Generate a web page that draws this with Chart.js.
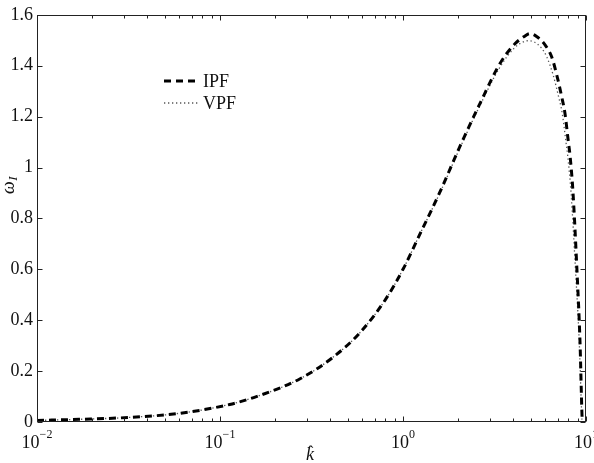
<!DOCTYPE html>
<html><head><meta charset="utf-8">
<script src="https://cdn.jsdelivr.net/npm/chart.js@4"></script>
<style>html,body{margin:0;padding:0;background:#fff;}canvas{display:block;}</style>
</head><body>
<canvas id="c" width="594" height="463"></canvas>
<script>
const kIPF = [0.01, 0.017, 0.032, 0.06, 0.113, 0.166, 0.274, 0.414, 0.582, 0.8, 1.0, 1.25, 1.59, 2.05, 2.64, 3.39, 4.09, 4.6, 4.94, 5.37, 6.0, 6.49, 6.92, 7.36, 7.67, 8.0, 8.18, 8.49, 8.93, 9.27, 9.51, 9.55];
const wIPF = [0.006, 0.0105, 0.018, 0.034, 0.069, 0.105, 0.170, 0.254, 0.351, 0.48, 0.60, 0.745, 0.903, 1.084, 1.253, 1.409, 1.486, 1.515, 1.526, 1.515, 1.48, 1.435, 1.364, 1.279, 1.214, 1.104, 1.047, 0.903, 0.592, 0.319, 0.027, 0];
const kVPF = [0.01, 0.017, 0.032, 0.06, 0.113, 0.166, 0.274, 0.414, 0.582, 0.8, 1.0, 1.25, 1.59, 2.05, 2.64, 3.39, 4.09, 4.5, 4.79, 5.25, 5.7, 6.10, 6.61, 7.08, 7.41, 7.76, 7.94, 8.28, 8.77, 9.18, 9.48, 9.52];
const wVPF = [0.006, 0.0105, 0.018, 0.034, 0.069, 0.105, 0.170, 0.254, 0.351, 0.48, 0.60, 0.745, 0.900, 1.078, 1.245, 1.395, 1.472, 1.492, 1.498, 1.492, 1.47, 1.435, 1.364, 1.279, 1.214, 1.104, 1.047, 0.903, 0.592, 0.319, 0.027, 0];
const seriesNames = ['IPF', 'VPF'];
const xDecades = [0.01, 0.1, 1, 10];
const xExponents = ['\u22122', '\u22121', '0', '1'];
const yMin = 0, yMax = 1.6, yStep = 0.2;

const FONT = '"Liberation Serif", "Times New Roman", serif';
const TXT = '#111';

const decorPlugin = {
  id: 'decor',
  afterDraw(chart) {
    const ctx = chart.ctx, ca = chart.chartArea;
    const xs = chart.scales.x, ys = chart.scales.y;
    ctx.save();
    ctx.strokeStyle = '#222';
    ctx.lineWidth = 1;
    const L = Math.round(ca.left) + 0.5, R = Math.round(ca.right) - 0.5;
    const T = Math.round(ca.top) + 0.5, B = Math.round(ca.bottom) - 0.5;
    ctx.strokeRect(L, T, R - L, B - T);
    ctx.beginPath();
    // y ticks
    for (let v = yMin; v <= yMax + 1e-9; v += yStep) {
      const py = Math.round(ys.getPixelForValue(v)) + 0.5;
      ctx.moveTo(L, py); ctx.lineTo(L + 5, py);
      ctx.moveTo(R, py); ctx.lineTo(R - 5, py);
    }
    // x ticks
    for (let i = 0; i < xDecades.length; i++) {
      const d = xDecades[i];
      for (let m = 1; m <= 9; m++) {
        const v = d * m;
        if (v > xDecades[xDecades.length - 1] * 1.0001) break;
        const px = Math.round(xs.getPixelForValue(v)) + 0.5;
        const len = m === 1 ? 5 : 3;
        ctx.moveTo(px, B); ctx.lineTo(px, B - len);
        ctx.moveTo(px, T); ctx.lineTo(px, T + len);
      }
    }
    ctx.stroke();

    // x tick labels
    ctx.fillStyle = TXT;
    ctx.textBaseline = 'alphabetic';
    ctx.textAlign = 'left';
    for (let i = 0; i < xDecades.length; i++) {
      const px = xs.getPixelForValue(xDecades[i]);
      ctx.font = '18px ' + FONT;
      const w1 = ctx.measureText('10').width;
      ctx.font = '12px ' + FONT;
      const w2 = ctx.measureText(xExponents[i]).width;
      const start = px - (w1 + w2) / 2;
      ctx.font = '18px ' + FONT;
      ctx.fillText('10', start, 448);
      ctx.font = '12px ' + FONT;
      ctx.fillText(xExponents[i], start + w1, 438);
    }

    // x title  k-hat
    ctx.font = 'italic 18px ' + FONT;
    const kx = 306, kb = 460;
    ctx.fillText('k', kx, kb);
    ctx.font = '16px ' + FONT;
    ctx.fillText('\u02C6', kx + 2, kb - 3);

    // y title omega_I
    ctx.save();
    ctx.translate(14, 194);
    ctx.rotate(-Math.PI / 2);
    ctx.font = 'italic 18px ' + FONT;
    ctx.fillText('\u03C9', 0, 0);
    const ww = ctx.measureText('\u03C9').width;
    ctx.font = 'italic 13px ' + FONT;
    ctx.fillText('I', ww + 0.5, 3);
    ctx.restore();

    // legend
    const legY = [81, 103];
    chart.data.datasets.forEach((ds, i) => {
      ctx.save();
      ctx.strokeStyle = ds.borderColor;
      ctx.lineWidth = ds.borderWidth;
      ctx.setLineDash(ds.borderDash);
      ctx.beginPath();
      ctx.moveTo(164, legY[i]); ctx.lineTo(200, legY[i]);
      ctx.stroke();
      ctx.restore();
      ctx.fillStyle = TXT;
      ctx.font = '18px ' + FONT;
      ctx.textBaseline = 'middle';
      ctx.fillText(seriesNames[i], 203, legY[i] + 1);
    });
    ctx.restore();
  }
};

new Chart(document.getElementById('c'), {
  type: 'line',
  data: {
    datasets: [
      {
        label: seriesNames[0],
        data: kIPF.map((k, i) => ({ x: k, y: wIPF[i] })),
        borderColor: '#000',
        borderWidth: 3,
        borderDash: [7, 5],
        pointRadius: 0,
        fill: false,
        cubicInterpolationMode: 'monotone'
      },
      {
        label: seriesNames[1],
        data: kVPF.map((k, i) => ({ x: k, y: wVPF[i] })),
        borderColor: '#555',
        borderWidth: 1.3,
        borderDash: [1.3, 2.7],
        pointRadius: 0,
        fill: false,
        cubicInterpolationMode: 'monotone'
      }
    ]
  },
  options: {
    responsive: false,
    animation: false,
    devicePixelRatio: 1,
    layout: { padding: { top: 11, right: 8, left: 0, bottom: 0 } },
    plugins: { legend: { display: false }, tooltip: { enabled: false } },
    scales: {
      x: {
        type: 'logarithmic', min: 0.01, max: 10,
        ticks: { display: false },
        grid: { display: false, drawTicks: false },
        border: { display: false },
        afterFit(s) { s.height = 41; }
      },
      y: {
        min: yMin, max: yMax,
        ticks: {
          stepSize: yStep, color: TXT, padding: 4,
          font: { family: FONT, size: 18 },
          callback: v => String(Number(v.toFixed(1)))
        },
        grid: { display: false, drawTicks: false },
        border: { display: false },
        afterFit(s) { s.width = 37; }
      }
    }
  },
  plugins: [decorPlugin]
});
</script>
</body></html>
